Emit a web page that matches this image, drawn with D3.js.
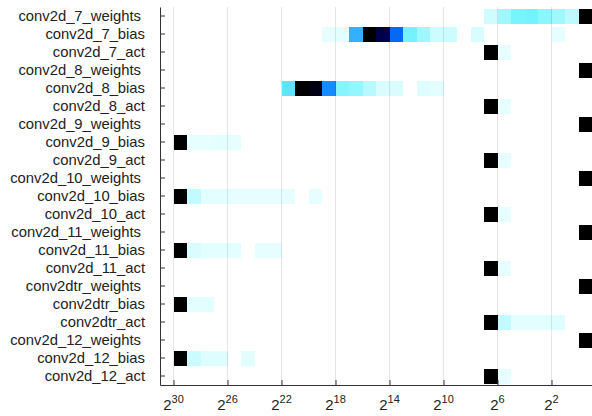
<!DOCTYPE html>
<html>
<head>
<meta charset="utf-8">
<script src="https://cdn.jsdelivr.net/npm/d3@7"></script>
<style>
  html, body { margin: 0; padding: 0; background: #fff; }
  svg { display: block; font-family: "Liberation Sans", Arial, sans-serif; }
</style>
</head>
<body>
<svg id="chart" width="592" height="416"></svg>
<script>
// ---- data ----
const categories = [
  "conv2d_7_weights", "conv2d_7_bias", "conv2d_7_act",
  "conv2d_8_weights", "conv2d_8_bias", "conv2d_8_act",
  "conv2d_9_weights", "conv2d_9_bias", "conv2d_9_act",
  "conv2d_10_weights", "conv2d_10_bias", "conv2d_10_act",
  "conv2d_11_weights", "conv2d_11_bias", "conv2d_11_act",
  "conv2dtr_weights", "conv2dtr_bias", "conv2dtr_act",
  "conv2d_12_weights", "conv2d_12_bias", "conv2d_12_act"
];
// each row: [bin exponent (upper edge 2^e, lower edge 2^(e-1)), normalised intensity]
const rowBins = [
  [[7,0.08],[6,0.2],[5,0.3],[4,0.31],[3,0.25],[2,0.2],[1,0.13],[0,1]],
  [[19,0.03],[18,0.04],[17,0.5],[16,1],[15,0.86],[14,0.65],[13,0.31],[12,0.21],[11,0.09],[10,0.09],[8,0.06],[2,0.03]],
  [[7,1],[6,0.03]],
  [[0,1]],
  [[22,0.37],[21,1],[20,0.96],[19,0.58],[18,0.26],[17,0.23],[16,0.15],[15,0.06],[14,0.06],[12,0.05],[11,0.04]],
  [[7,1],[6,0.03]],
  [[0,1]],
  [[30,1],[29,0.03],[28,0.03],[27,0.04],[26,0.03]],
  [[7,1],[6,0.03]],
  [[0,1]],
  [[30,1],[29,0.12],[28,0.04],[27,0.04],[26,0.03],[25,0.03],[24,0.03],[23,0.03],[22,0.03],[20,0.03]],
  [[7,1],[6,0.03]],
  [[0,1]],
  [[30,1],[29,0.06],[28,0.04],[27,0.04],[26,0.04],[24,0.03],[23,0.03]],
  [[7,1],[6,0.03]],
  [[0,1]],
  [[30,1],[29,0.04],[28,0.04]],
  [[7,1],[6,0.12],[5,0.04],[4,0.04],[3,0.04],[2,0.05]],
  [[0,1]],
  [[30,1],[29,0.1],[28,0.05],[27,0.05],[25,0.04]],
  [[7,1],[6,0.03]]
];
const tickExponents = [30, 26, 22, 18, 14, 10, 6, 2];
const xDomainExp = [31, -1];

// ---- scales ----
const svg = d3.select("#chart");
const mLeft = 160, mRight = 592, mTop = 7, mBottom = 385;

const x = d3.scaleLog().base(2)
  .domain([2 ** xDomainExp[0], 2 ** xDomainExp[1]])
  .range([mLeft, mRight]);

const y = d3.scaleBand().domain(categories)
  .range([mTop, mBottom]).paddingInner(1/6).paddingOuter(1/12);

const color = d3.scaleLinear()
  .domain([0, 0.3, 0.4, 0.5, 0.6, 0.67, 0.85, 1])
  .range(["#f2ffff", "#77f4ff", "#55dcff", "#33b0ff", "#1080ff", "#0060ee", "#000050", "#000000"])
  .interpolate(d3.interpolateRgb);

// ---- cells ----
const cells = [];
rowBins.forEach((bins, i) => bins.forEach(([e, v]) => cells.push({cat: categories[i], e, v})));

svg.append("g").selectAll("rect").data(cells).join("rect")
  .attr("x", d => x(2 ** d.e))
  .attr("width", d => x(2 ** (d.e - 1)) - x(2 ** d.e))
  .attr("y", d => y(d.cat))
  .attr("height", y.bandwidth())
  .attr("fill", d => color(d.v))
  .attr("shape-rendering", "crispEdges");

// ---- grid ----
svg.append("g").selectAll("line").data(tickExponents).join("line")
  .attr("x1", d => x(2 ** d)).attr("x2", d => x(2 ** d))
  .attr("y1", mTop).attr("y2", mBottom)
  .attr("stroke", "rgba(0,0,0,0.1)").attr("stroke-width", 1);

// ---- x axis ----
const xAxis = svg.append("g").attr("transform", `translate(0,${mBottom})`)
  .call(d3.axisBottom(x).tickValues(tickExponents.map(e => 2 ** e))
    .tickSizeInner(-5).tickSizeOuter(0).tickFormat(""));
xAxis.select(".domain").attr("stroke", "#333").attr("stroke-width", 1);
xAxis.selectAll(".tick line").attr("stroke", "#333");

const xl = svg.append("g").selectAll("text").data(tickExponents).join("text")
  .attr("x", d => x(2 ** d)).attr("y", 409.5)
  .attr("text-anchor", "middle").attr("fill", "#222")
  .attr("font-size", 15);
xl.append("tspan").text("2");
xl.append("tspan").attr("font-size", 11).attr("dy", -7).text(d => String(d));

// ---- y axis ----
const yAxis = svg.append("g").attr("transform", `translate(${mLeft},0)`)
  .call(d3.axisLeft(y).tickSizeInner(-5).tickSizeOuter(0).tickPadding(15));
yAxis.select(".domain").attr("stroke", "#333");
yAxis.selectAll(".tick line").attr("stroke", "#333");
yAxis.selectAll(".tick text")
  .attr("font-size", 14.8).attr("fill", "#222")
  .attr("font-family", "'Liberation Sans', Arial, sans-serif")
  .attr("dx", d => d.endsWith("weights") ? -4 : 0);
</script>
</body>
</html>
